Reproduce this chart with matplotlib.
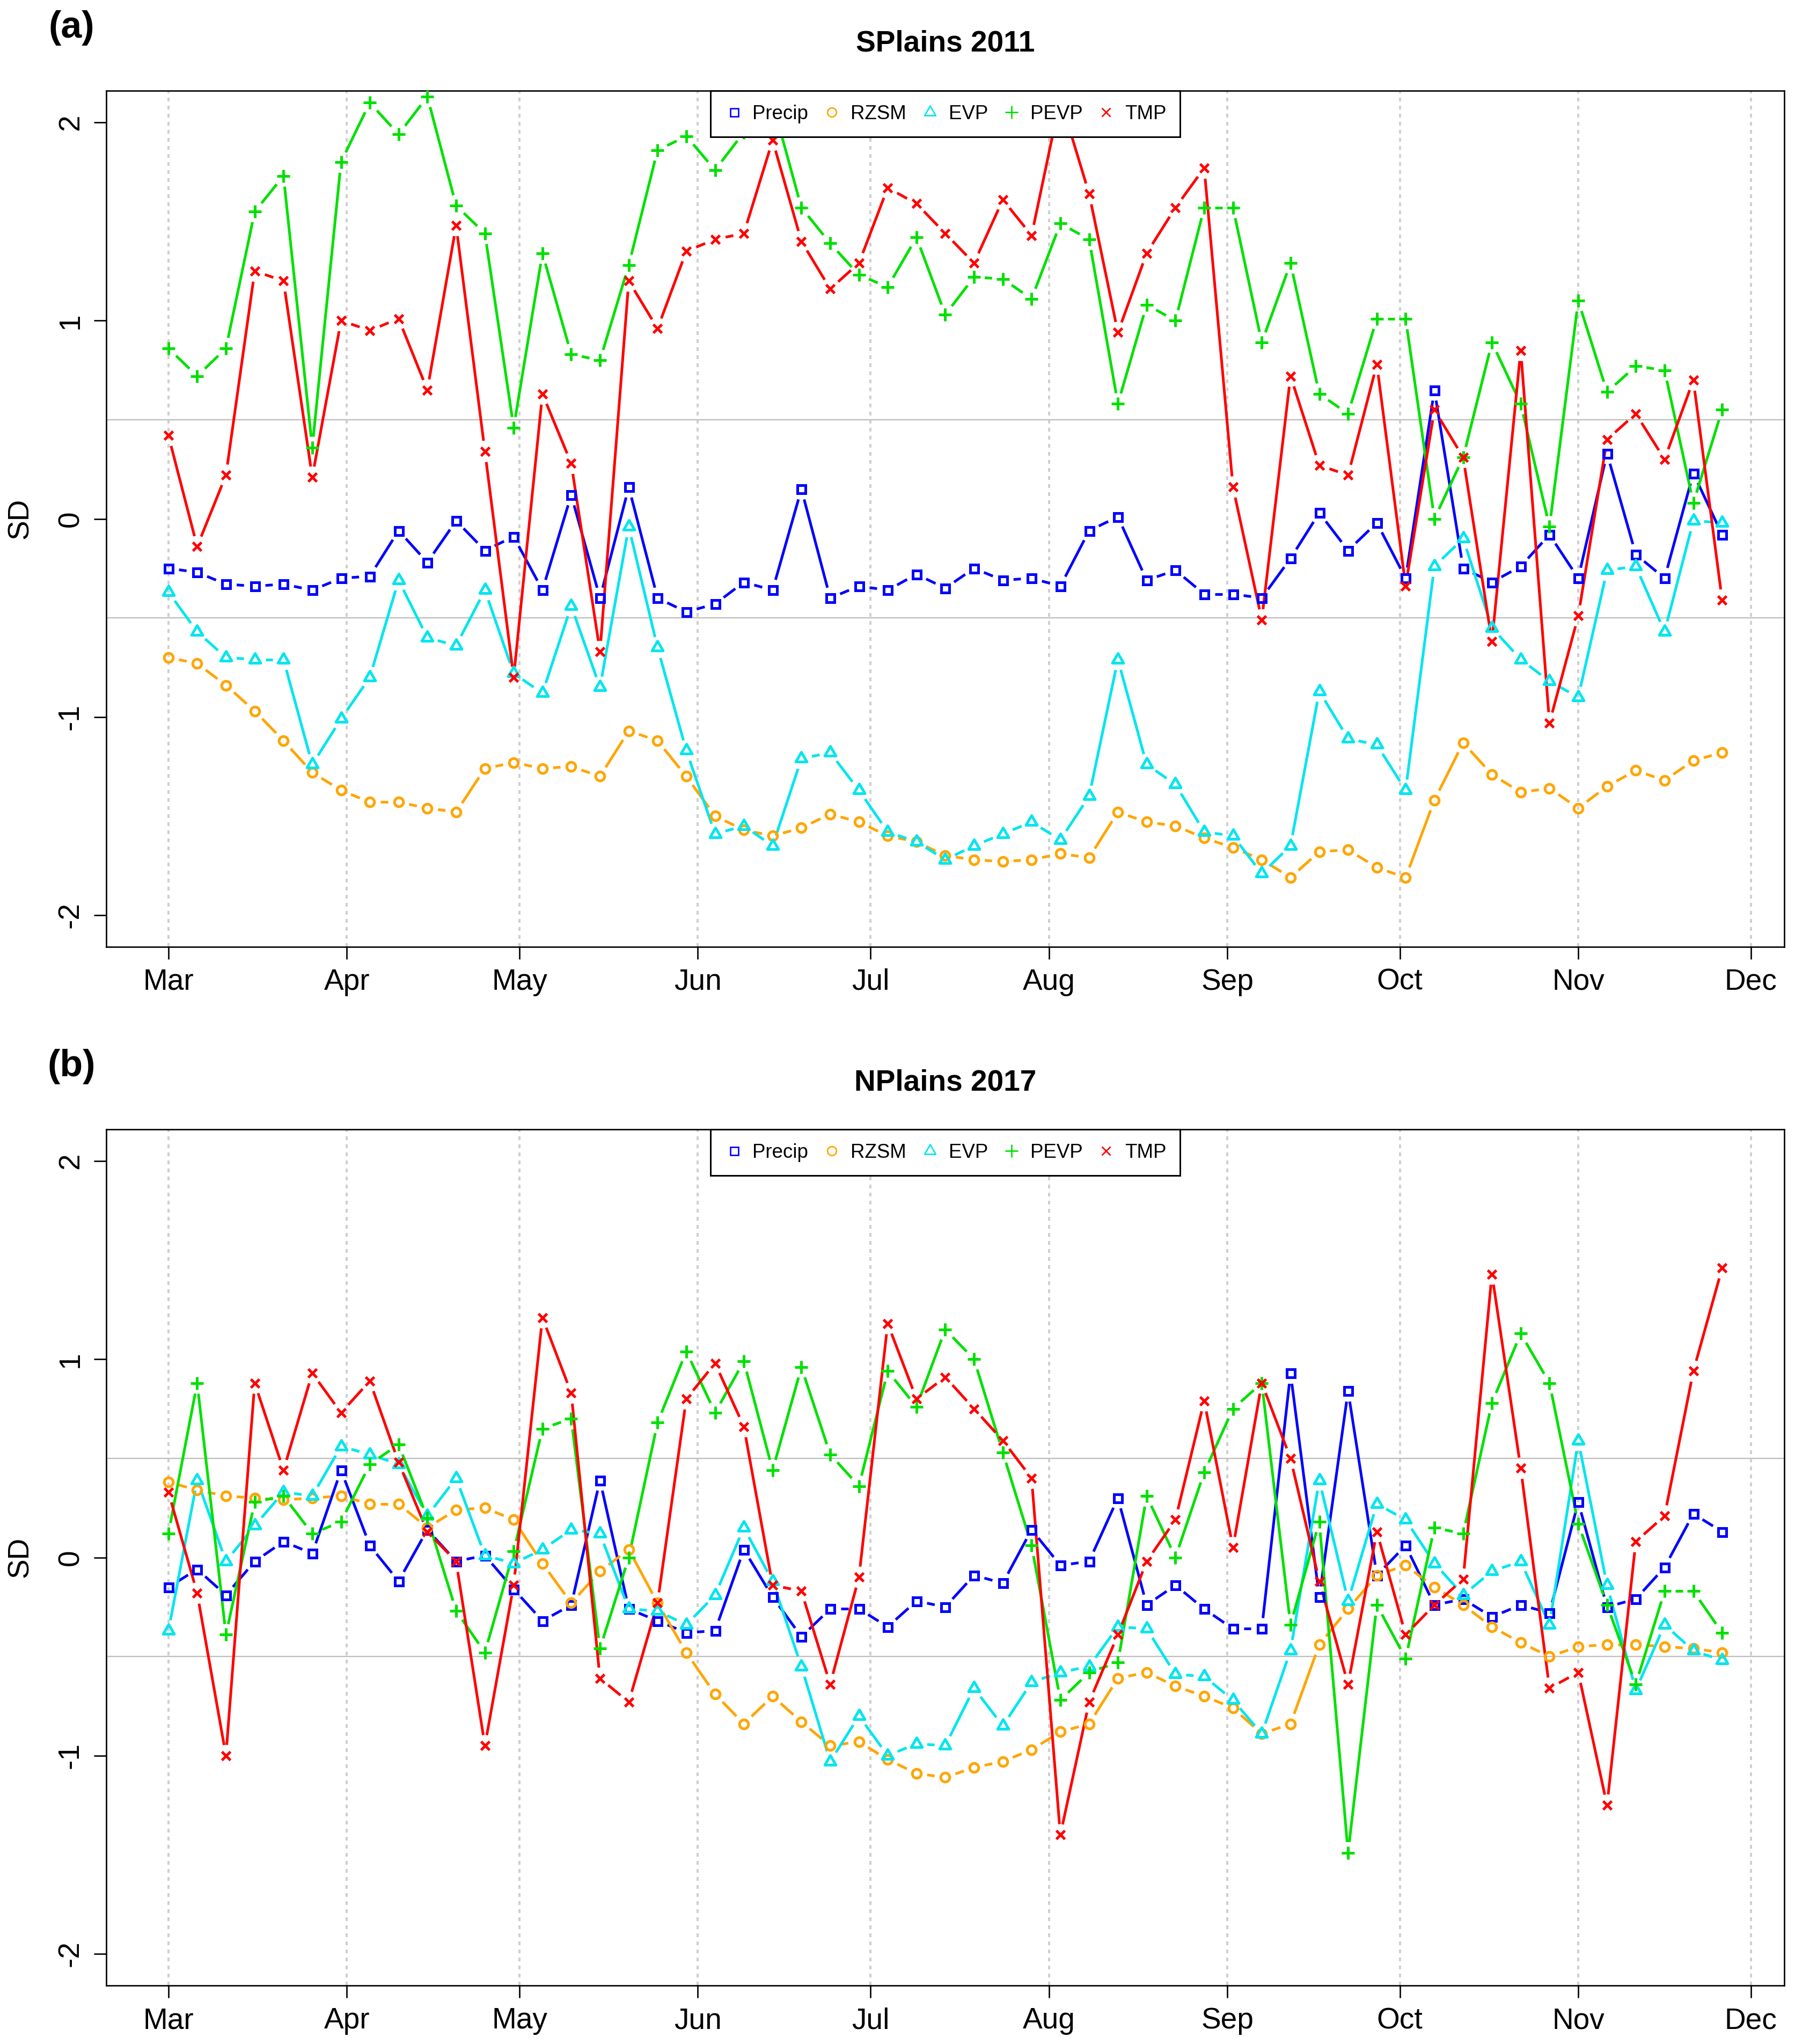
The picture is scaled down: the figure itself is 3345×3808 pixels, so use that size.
import numpy as np
import matplotlib
matplotlib.use('Agg')
import matplotlib.pyplot as plt
import matplotlib.dates as mdates
from matplotlib.collections import LineCollection
from matplotlib.lines import Line2D
from matplotlib.path import Path

plt.rcParams.update({
    'font.family': ['Liberation Sans', 'DejaVu Sans'],
    'axes.unicode_minus': False,
})

W, H, DPI = 3345, 3808, 240

# pentads from 1 March to 26 November
day_offset = np.arange(0, 271, 5)

labels = ['Precip', 'RZSM', 'EVP', 'PEVP', 'TMP']

# (a) SPlains 2011
precip_a = [-0.25, -0.27, -0.33, -0.34, -0.33, -0.36, -0.30, -0.29, -0.06, -0.22, -0.01, -0.16, -0.09, -0.36,
            0.12, -0.40, 0.16, -0.40, -0.47, -0.43, -0.32, -0.36, 0.15, -0.40, -0.34, -0.36, -0.28, -0.35,
            -0.25, -0.31, -0.30, -0.34, -0.06, 0.01, -0.31, -0.26, -0.38, -0.38, -0.40, -0.20, 0.03, -0.16,
            -0.02, -0.30, 0.65, -0.25, -0.32, -0.24, -0.08, -0.30, 0.33, -0.18, -0.30, 0.23, -0.08]
rzsm_a = [-0.70, -0.73, -0.84, -0.97, -1.12, -1.28, -1.37, -1.43, -1.43, -1.46, -1.48, -1.26, -1.23, -1.26,
          -1.25, -1.30, -1.07, -1.12, -1.30, -1.50, -1.57, -1.60, -1.56, -1.49, -1.53, -1.60, -1.63, -1.70,
          -1.72, -1.73, -1.72, -1.69, -1.71, -1.48, -1.53, -1.55, -1.61, -1.66, -1.72, -1.81, -1.68, -1.67,
          -1.76, -1.81, -1.42, -1.13, -1.29, -1.38, -1.36, -1.46, -1.35, -1.27, -1.32, -1.22, -1.18]
evp_a = [-0.37, -0.57, -0.70, -0.71, -0.71, -1.24, -1.01, -0.80, -0.31, -0.60, -0.64, -0.36, -0.78, -0.88,
         -0.44, -0.85, -0.04, -0.65, -1.17, -1.59, -1.55, -1.65, -1.21, -1.18, -1.37, -1.58, -1.63, -1.72,
         -1.65, -1.59, -1.53, -1.62, -1.40, -0.71, -1.24, -1.34, -1.58, -1.60, -1.79, -1.65, -0.87, -1.11,
         -1.14, -1.37, -0.24, -0.10, -0.55, -0.71, -0.82, -0.90, -0.26, -0.24, -0.57, -0.01, -0.02]
pevp_a = [0.86, 0.72, 0.86, 1.55, 1.73, 0.36, 1.80, 2.10, 1.94, 2.13, 1.58, 1.44, 0.46, 1.34, 0.83, 0.80,
          1.28, 1.86, 1.93, 1.76, 1.95, 2.10, 1.57, 1.39, 1.23, 1.17, 1.42, 1.03, 1.22, 1.21, 1.11, 1.49,
          1.41, 0.58, 1.08, 1.00, 1.57, 1.57, 0.89, 1.29, 0.63, 0.53, 1.01, 1.01, 0.00, 0.31, 0.89, 0.58,
          -0.04, 1.10, 0.64, 0.77, 0.75, 0.08, 0.55]
tmp_a = [0.42, -0.14, 0.22, 1.25, 1.20, 0.21, 1.00, 0.95, 1.01, 0.65, 1.48, 0.34, -0.80, 0.63, 0.28, -0.67,
         1.20, 0.96, 1.35, 1.41, 1.44, 1.91, 1.40, 1.16, 1.29, 1.67, 1.59, 1.44, 1.29, 1.61, 1.43, 2.12,
         1.64, 0.94, 1.34, 1.57, 1.77, 0.16, -0.51, 0.72, 0.27, 0.22, 0.78, -0.34, 0.55, 0.31, -0.62, 0.85,
         -1.03, -0.49, 0.40, 0.53, 0.30, 0.70, -0.41]

# (b) NPlains 2017
precip_b = [-0.15, -0.06, -0.19, -0.02, 0.08, 0.02, 0.44, 0.06, -0.12, 0.14, -0.02, 0.01, -0.16, -0.32,
            -0.24, 0.39, -0.26, -0.32, -0.38, -0.37, 0.04, -0.20, -0.40, -0.26, -0.26, -0.35, -0.22, -0.25,
            -0.09, -0.13, 0.14, -0.04, -0.02, 0.30, -0.24, -0.14, -0.26, -0.36, -0.36, 0.93, -0.20, 0.84,
            -0.09, 0.06, -0.24, -0.21, -0.30, -0.24, -0.28, 0.28, -0.25, -0.21, -0.05, 0.22, 0.13]
rzsm_b = [0.38, 0.34, 0.31, 0.30, 0.29, 0.30, 0.31, 0.27, 0.27, 0.15, 0.24, 0.25, 0.19, -0.03, -0.23, -0.07,
          0.04, -0.23, -0.48, -0.69, -0.84, -0.70, -0.83, -0.95, -0.93, -1.02, -1.09, -1.11, -1.06, -1.03,
          -0.97, -0.88, -0.84, -0.61, -0.58, -0.65, -0.70, -0.76, -0.89, -0.84, -0.44, -0.26, -0.09, -0.04,
          -0.15, -0.24, -0.35, -0.43, -0.50, -0.45, -0.44, -0.44, -0.45, -0.46, -0.48]
evp_b = [-0.37, 0.39, -0.02, 0.16, 0.33, 0.31, 0.56, 0.52, 0.47, 0.21, 0.40, 0.01, -0.03, 0.04, 0.14, 0.12,
         -0.26, -0.27, -0.34, -0.19, 0.15, -0.12, -0.55, -1.03, -0.80, -1.00, -0.94, -0.95, -0.66, -0.85,
         -0.63, -0.58, -0.55, -0.35, -0.36, -0.59, -0.60, -0.72, -0.89, -0.47, 0.39, -0.22, 0.27, 0.19,
         -0.03, -0.19, -0.07, -0.02, -0.34, 0.59, -0.14, -0.67, -0.34, -0.47, -0.52]
pevp_b = [0.12, 0.88, -0.39, 0.28, 0.31, 0.12, 0.18, 0.47, 0.57, 0.20, -0.27, -0.48, 0.03, 0.65, 0.70, -0.46,
          0.00, 0.68, 1.04, 0.73, 0.99, 0.44, 0.96, 0.52, 0.36, 0.94, 0.76, 1.15, 1.00, 0.53, 0.06, -0.72,
          -0.58, -0.53, 0.31, 0.00, 0.43, 0.75, 0.88, -0.34, 0.18, -1.49, -0.24, -0.51, 0.15, 0.12, 0.78,
          1.13, 0.88, 0.17, -0.24, -0.64, -0.17, -0.17, -0.38]
tmp_b = [0.33, -0.18, -1.00, 0.88, 0.44, 0.93, 0.73, 0.89, 0.48, 0.13, -0.02, -0.95, -0.14, 1.21, 0.83, -0.61,
         -0.73, -0.23, 0.80, 0.98, 0.66, -0.14, -0.17, -0.64, -0.10, 1.18, 0.80, 0.91, 0.75, 0.59, 0.40,
         -1.40, -0.73, -0.39, -0.02, 0.19, 0.79, 0.05, 0.88, 0.50, -0.12, -0.64, 0.13, -0.39, -0.24, -0.11,
         1.43, 0.45, -0.66, -0.58, -1.25, 0.08, 0.21, 0.94, 1.46]

colors = ['#0000FF', '#FFA500', '#00E5EE', '#00E000', '#FF0000']

# R-like equilateral triangle (pch = 2)
tri = Path([(0, 1.555), (1.347, -0.778), (-1.347, -0.778), (0, 1.555)],
           [Path.MOVETO, Path.LINETO, Path.LINETO, Path.CLOSEPOLY])
markers = ['s', 'o', tri, '+', 'x']
msizes = [4.5, 5.0, 7.2, 7.0, 5.0]
LW = 1.5
GAP_PT = 6.0


def gapped_line(ax, x, y, color):
    # lines with gaps around the points, like R's type = "b"
    gap = GAP_PT * ax.figure.dpi / 72
    pts = ax.transData.transform(np.column_stack([x, y]))
    inv = ax.transData.inverted()
    segs = []
    for p0, p1 in zip(pts[:-1], pts[1:]):
        d = p1 - p0
        L = np.hypot(d[0], d[1])
        if L <= 2 * gap:
            continue
        u = d / L
        segs.append(inv.transform(np.array([p0 + u * gap, p1 - u * gap])))
    ax.add_collection(LineCollection(segs, colors=color, linewidths=LW, zorder=3))


def draw_panel(ax, year, series, title, tag, top_px):
    start = np.datetime64(f'{year}-03-01')
    x0 = mdates.date2num(start)
    x = mdates.date2num(start + day_offset.astype('timedelta64[D]'))
    ax.set_xlim(x0 - 10.8, x0 + 280.8)
    ax.set_ylim(-2.16, 2.16)

    ax.xaxis.set_major_locator(mdates.MonthLocator(bymonth=range(3, 13)))
    ax.xaxis.set_major_formatter(mdates.DateFormatter('%b'))
    ax.set_yticks([-2, -1, 0, 1, 2])
    ax.tick_params(axis='both', length=7, width=0.8, labelsize=16.5, pad=5)
    for lab in ax.get_yticklabels():
        lab.set_rotation(90)
        lab.set_va('center')
    for s in ax.spines.values():
        s.set_linewidth(0.8)

    ax.grid(axis='x', color='#CFCFCF', linewidth=1.2, linestyle=(0, (1.75, 2.0)))
    ax.set_axisbelow(True)
    for yl in (-0.5, 0.5):
        ax.axhline(yl, color='#BEBEBE', linewidth=0.7, zorder=1)

    for vals, c, m, ms in zip(series, colors, markers, msizes):
        gapped_line(ax, x, vals, c)
        ax.plot(x, vals, linestyle='none', marker=m, markersize=ms, markerfacecolor='none',
                markeredgecolor=c, markeredgewidth=1.5, zorder=4)

    handles = [Line2D([], [], linestyle='none', marker=m, markersize=ms, markerfacecolor='none',
                      markeredgecolor=c, markeredgewidth=0.8)
               for c, m, ms in zip(colors, markers, msizes)]
    leg = ax.legend(handles, labels, loc='upper center', bbox_to_anchor=(0.5, 1.0), ncol=5,
                    fontsize=11, frameon=True, fancybox=False, framealpha=1, edgecolor='black',
                    borderaxespad=0, borderpad=0.7, handlelength=1.0, handletextpad=0.45,
                    columnspacing=0.7)
    leg.get_frame().set_linewidth(0.9)
    leg.set_zorder(10)

    cx = (198 + 3325) / 2 / W
    fig.text(cx, 1 - (top_px - 87) / H, title, fontsize=16.5, fontweight='bold',
             ha='center', va='center')
    fig.text(133 / W, 1 - (top_px - 117) / H, tag, fontsize=21, fontweight='bold',
             ha='center', va='center')
    fig.text(38 / W, 1 - (top_px + 797) / H, 'SD', fontsize=16.5, rotation=90,
             ha='center', va='center')


fig = plt.figure(figsize=(W / DPI, H / DPI), dpi=DPI)
left, right = 198, 3325
ax_a = fig.add_axes([left / W, 1 - 1764 / H, (right - left) / W, (1764 - 169) / H])
ax_b = fig.add_axes([left / W, 1 - 3699 / H, (right - left) / W, (3699 - 2104) / H])

draw_panel(ax_a, 2011, [precip_a, rzsm_a, evp_a, pevp_a, tmp_a], 'SPlains 2011', '(a)', 169)
draw_panel(ax_b, 2017, [precip_b, rzsm_b, evp_b, pevp_b, tmp_b], 'NPlains 2017', '(b)', 2104)

fig.savefig('out.png', dpi=DPI)
